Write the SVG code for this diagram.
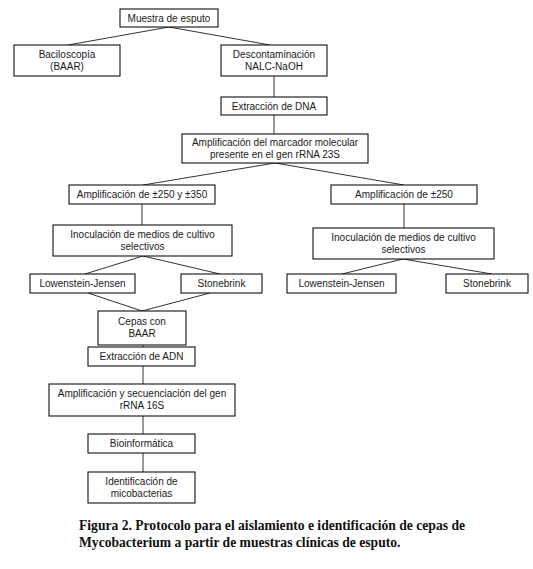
<svg xmlns="http://www.w3.org/2000/svg" width="533" height="569" viewBox="0 0 533 569">
<style>
.b{fill:#fff;stroke:#111;stroke-width:1.1}
.t{font-family:"Liberation Sans",Arial,sans-serif;font-size:10px;fill:#1a1a1a;text-anchor:middle}
.c{stroke:#333;stroke-width:1;fill:none}
.cap{font-family:"Liberation Serif","Times New Roman",serif;font-size:13.6px;font-weight:bold;fill:#111}
</style>
<rect width="533" height="569" fill="#fff"/>
<g id="connectors">
<path class="c" d="M169 27L68 45M169 27L270 45"/>
<path class="c" d="M274 76V97M274 115V134"/>
<path class="c" d="M275 163L143 185M275 163L404 185"/>
<path class="c" d="M142 204V225M404 204V228"/>
<path class="c" d="M143 256L85 274M143 256L220 274"/>
<path class="c" d="M403 259L342 274M403 259L492 274"/>
<path class="c" d="M88 293L142 311M210 293L142 311"/>
<path class="c" d="M143 345V347M143 366V384M143 416V434M143 453V472"/>
</g>
<g id="n1"><rect class="b" x="120" y="9" width="98" height="18"/><text class="t" x="169" y="22">Muestra de esputo</text></g>
<g id="n2"><rect class="b" x="14" y="45" width="106" height="31"/><text class="t" x="67" y="58">Baciloscopía</text><text class="t" x="67" y="70">(BAAR)</text></g>
<g id="n3"><rect class="b" x="221" y="45" width="106" height="31"/><text class="t" x="274" y="58">Descontaminación</text><text class="t" x="274" y="70">NALC-NaOH</text></g>
<g id="n4"><rect class="b" x="221" y="97" width="106" height="18"/><text class="t" x="274" y="110">Extracción de DNA</text></g>
<g id="n5"><rect class="b" x="182" y="134" width="186" height="29"/><text class="t" x="275" y="146">Amplificación del marcador molecular</text><text class="t" x="275" y="158">presente en el gen rRNA 23S</text></g>
<g id="n6"><rect class="b" x="69" y="185" width="146" height="19"/><text class="t" x="142" y="198">Amplificación de ±250 y ±350</text></g>
<g id="n7"><rect class="b" x="331" y="185" width="146" height="19"/><text class="t" x="404" y="198">Amplificación de ±250</text></g>
<g id="n8"><rect class="b" x="53" y="225" width="179" height="31"/><text class="t" x="142.5" y="238">Inoculación de medios de cultivo</text><text class="t" x="142.5" y="250">selectivos</text></g>
<g id="n9"><rect class="b" x="313" y="228" width="181" height="31"/><text class="t" x="403.5" y="241">Inoculación de medios de cultivo</text><text class="t" x="403.5" y="253">selectivos</text></g>
<g id="n10"><rect class="b" x="30" y="274" width="105" height="19"/><text class="t" x="82.5" y="287">Lowenstein-Jensen</text></g>
<g id="n11"><rect class="b" x="181" y="274" width="81" height="19"/><text class="t" x="221.5" y="287">Stonebrink</text></g>
<g id="n12"><rect class="b" x="287" y="274" width="109" height="19"/><text class="t" x="341.5" y="287">Lowenstein-Jensen</text></g>
<g id="n13"><rect class="b" x="446" y="274" width="82" height="19"/><text class="t" x="487" y="287">Stonebrink</text></g>
<g id="n14"><rect class="b" x="98" y="311" width="88" height="34"/><text class="t" x="142" y="325">Cepas con</text><text class="t" x="142" y="337">BAAR</text></g>
<g id="n15"><rect class="b" x="88" y="347" width="107" height="19"/><text class="t" x="141.5" y="360">Extracción de ADN</text></g>
<g id="n16"><rect class="b" x="49" y="384" width="186" height="32"/><text class="t" x="142" y="397">Amplificación y secuenciación del gen</text><text class="t" x="142" y="409">rRNA 16S</text></g>
<g id="n17"><rect class="b" x="88" y="434" width="107" height="19"/><text class="t" x="141.5" y="447">Bioinformática</text></g>
<g id="n18"><rect class="b" x="88" y="472" width="107" height="31"/><text class="t" x="141.5" y="485">Identificación de</text><text class="t" x="141.5" y="497">micobacterias</text></g>
<text class="cap" x="79" y="530">Figura 2. Protocolo para el aislamiento e identificación de cepas de</text>
<text class="cap" x="79" y="547">Mycobacterium a partir de muestras clínicas de esputo.</text>
</svg>
